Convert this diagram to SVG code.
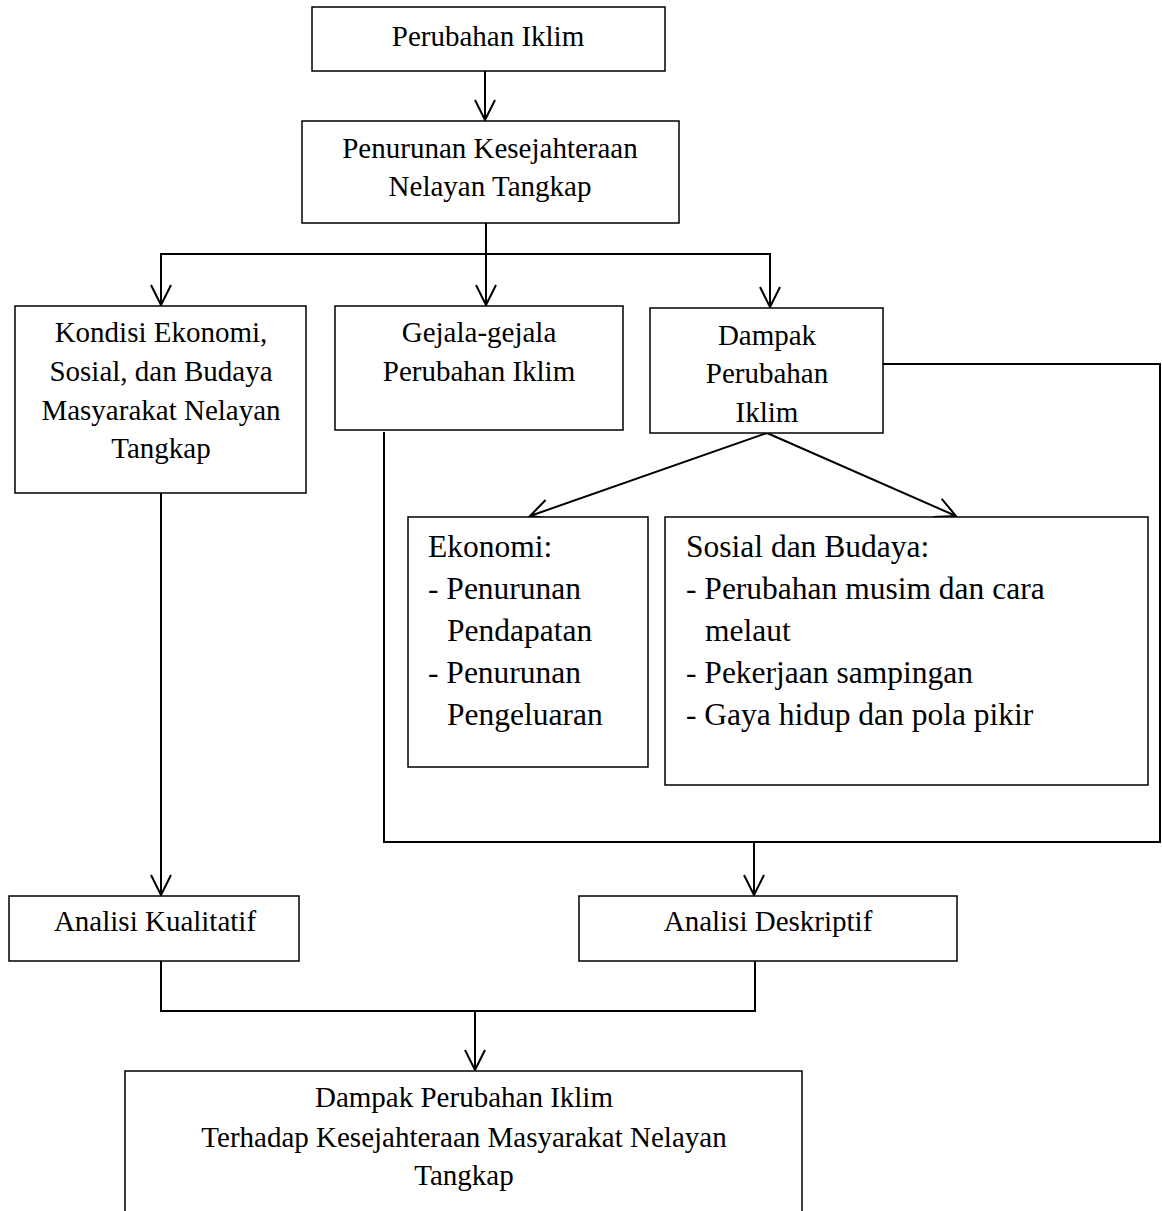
<svg xmlns="http://www.w3.org/2000/svg" width="1162" height="1211" viewBox="0 0 1162 1211">
<style>
.box{fill:#fff;stroke:#000;stroke-width:1.5}
.t{font-family:"Liberation Serif","Times New Roman",serif;font-size:29px;fill:#000;text-anchor:middle}
.s{font-family:"Liberation Serif","Times New Roman",serif;font-size:31.5px;fill:#000}
.c{fill:none;stroke:#000;stroke-width:2}
</style>
<defs>
<marker id="arr" markerUnits="userSpaceOnUse" markerWidth="26" markerHeight="26" viewBox="-23 -13 26 26" refX="0" refY="0" orient="auto">
<path d="M-20,-10 L0,0 L-20,10" fill="none" stroke="#000" stroke-width="2"/>
</marker>
</defs>
<rect width="1162" height="1211" fill="#fff"/>
<g id="connectors">
<line class="c" x1="485" y1="71" x2="485" y2="120" marker-end="url(#arr)"/>
<line class="c" x1="486" y1="223" x2="486" y2="305" marker-end="url(#arr)"/>
<polyline class="c" points="161,305 161,254 770,254 770,307" marker-end="url(#arr)"/>
<line class="c" x1="161" y1="254" x2="161" y2="305" marker-end="url(#arr)"/>
<line class="c" x1="767" y1="433" x2="530" y2="516" marker-end="url(#arr)"/>
<line class="c" x1="767" y1="433" x2="956" y2="516" marker-end="url(#arr)"/>
<polyline class="c" points="384,432 384,842 1160,842 1160,364 883,364"/>
<line class="c" x1="754" y1="842" x2="754" y2="895" marker-end="url(#arr)"/>
<line class="c" x1="161" y1="493" x2="161" y2="895" marker-end="url(#arr)"/>
<polyline class="c" points="161,961 161,1011 755,1011 755,961"/>
<line class="c" x1="475" y1="1011" x2="475" y2="1070" marker-end="url(#arr)"/>
</g>
<g id="n1">
<rect class="box" x="312" y="7" width="353" height="64"/>
<text class="t" x="488" y="46">Perubahan Iklim</text>
</g>
<g id="n2">
<rect class="box" x="302" y="121" width="377" height="102"/>
<text class="t" x="490" y="158">Penurunan Kesejahteraan</text>
<text class="t" x="490" y="196">Nelayan Tangkap</text>
</g>
<g id="n3">
<rect class="box" x="15" y="306" width="291" height="187"/>
<text class="t" x="161" y="342">Kondisi Ekonomi,</text>
<text class="t" x="161" y="381">Sosial, dan Budaya</text>
<text class="t" x="161" y="420">Masyarakat Nelayan</text>
<text class="t" x="161" y="458">Tangkap</text>
</g>
<g id="n4">
<rect class="box" x="335" y="306" width="288" height="124"/>
<text class="t" x="479" y="342">Gejala-gejala</text>
<text class="t" x="479" y="381">Perubahan Iklim</text>
</g>
<g id="n5">
<rect class="box" x="650" y="308" width="233" height="125"/>
<text class="t" x="767" y="345">Dampak</text>
<text class="t" x="767" y="383">Perubahan</text>
<text class="t" x="767" y="422">Iklim</text>
</g>
<g id="n6">
<rect class="box" x="408" y="517" width="240" height="250"/>
<text class="s" x="428" y="557">Ekonomi:</text>
<text class="s" x="428" y="599">- Penurunan</text>
<text class="s" x="447" y="641">Pendapatan</text>
<text class="s" x="428" y="683">- Penurunan</text>
<text class="s" x="447" y="725">Pengeluaran</text>
</g>
<g id="n7">
<rect class="box" x="665" y="517" width="483" height="268"/>
<text class="s" x="686" y="557">Sosial dan Budaya:</text>
<text class="s" x="686" y="599">- Perubahan musim dan cara</text>
<text class="s" x="705" y="641">melaut</text>
<text class="s" x="686" y="683">- Pekerjaan sampingan</text>
<text class="s" x="686" y="725">- Gaya hidup dan pola pikir</text>
</g>
<g id="n8">
<rect class="box" x="9" y="896" width="290" height="65"/>
<text class="t" x="155" y="931">Analisi Kualitatif</text>
</g>
<g id="n9">
<rect class="box" x="579" y="896" width="378" height="65"/>
<text class="t" x="768" y="931">Analisi Deskriptif</text>
</g>
<g id="n10">
<rect class="box" x="125" y="1071" width="677" height="160"/>
<text class="t" x="464" y="1107">Dampak Perubahan Iklim</text>
<text class="t" x="464" y="1147">Terhadap Kesejahteraan Masyarakat Nelayan</text>
<text class="t" x="464" y="1185">Tangkap</text>
</g>
</svg>
